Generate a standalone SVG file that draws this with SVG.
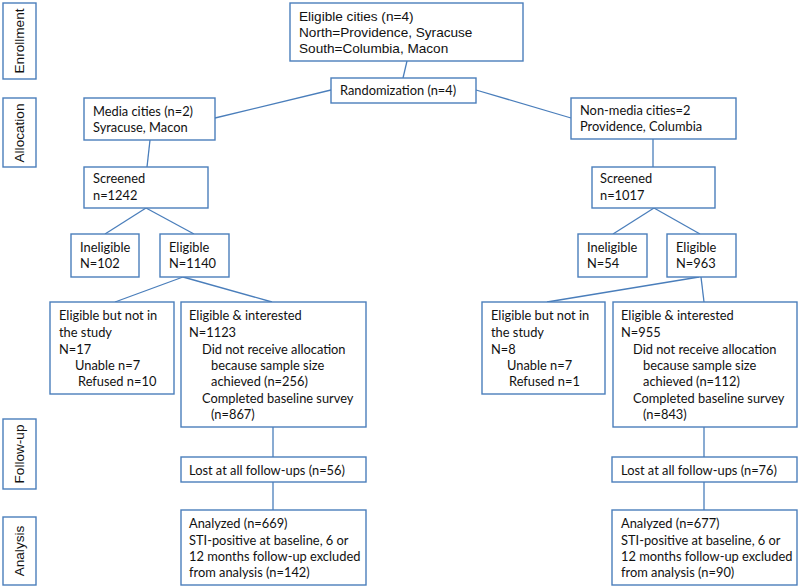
<svg xmlns="http://www.w3.org/2000/svg" width="800" height="588" viewBox="0 0 800 588">
<style>
  rect { fill: #fff; stroke: #4A7EBB; stroke-width: 1.4; }
  .c line { stroke: #4A7EBB; stroke-width: 1.3; }
  text { fill: #111; font-family: Lato, "Open Sans", sans-serif; font-size: 12.85px; }
  text.a { font-family: "Liberation Sans", Arial, sans-serif; font-size: 13.6px; }
</style>
<rect x="0" y="0" width="800" height="588" style="stroke:none;fill:#fff"/>

<g id="phase-enrollment"><rect x="3" y="3" width="33" height="76"/><text class="a" transform="translate(24,41) rotate(-90)" text-anchor="middle">Enrollment</text></g>
<g id="phase-allocation"><rect x="3" y="98" width="33" height="69"/><text class="a" transform="translate(24,133) rotate(-90)" text-anchor="middle">Allocation</text></g>
<g id="phase-followup"><rect x="3" y="419" width="33" height="70"/><text class="a" transform="translate(24,454) rotate(-90)" text-anchor="middle">Follow-up</text></g>
<g id="phase-analysis"><rect x="3" y="517" width="33" height="68"/><text class="a" transform="translate(24,551) rotate(-90)" text-anchor="middle">Analysis</text></g>

<g class="c" id="connectors">
  <line x1="407" y1="61" x2="403" y2="78"/>
  <line x1="331" y1="90" x2="215" y2="118"/>
  <line x1="476" y1="90" x2="571" y2="118"/>
  <line x1="150" y1="140" x2="147" y2="167"/>
  <line x1="146" y1="208" x2="105" y2="234"/>
  <line x1="146" y1="208" x2="194" y2="234"/>
  <line x1="183" y1="277" x2="115" y2="302"/>
  <line x1="183" y1="277" x2="272" y2="302"/>
  <line x1="273" y1="427" x2="273" y2="457"/>
  <line x1="273" y1="482" x2="273" y2="510"/>
  <line x1="653" y1="139" x2="653" y2="167"/>
  <line x1="654" y1="208" x2="613" y2="234"/>
  <line x1="654" y1="208" x2="700" y2="234"/>
  <line x1="699" y1="277" x2="547" y2="302"/>
  <line x1="701" y1="277" x2="704" y2="302"/>
  <line x1="704" y1="427" x2="704" y2="457"/>
  <line x1="704" y1="482" x2="704" y2="510"/>
</g>

<g id="eligible-cities"><rect x="290" y="3" width="233" height="58"/>
  <text class="a" x="299" y="21">Eligible cities (n=4)</text>
  <text class="a" x="299" y="37">North=Providence, Syracuse</text>
  <text class="a" x="299" y="53">South=Columbia, Macon</text></g>

<g id="randomization"><rect x="331" y="78" width="145" height="25"/>
  <text x="340" y="95">Randomization (n=4)</text></g>

<g id="media-cities"><rect x="84" y="98" width="131" height="42"/>
  <text x="93" y="116">Media cities (n=2)</text>
  <text x="93" y="132">Syracuse, Macon</text></g>

<g id="nonmedia-cities"><rect x="571" y="98" width="165" height="41"/>
  <text x="580" y="115">Non-media cities=2</text>
  <text x="580" y="131">Providence, Columbia</text></g>

<g id="screened-left"><rect x="84" y="167" width="124" height="41"/>
  <text x="93" y="183">Screened</text>
  <text x="93" y="200">n=1242</text></g>

<g id="screened-right"><rect x="592" y="167" width="123" height="41"/>
  <text x="600" y="183">Screened</text>
  <text x="600" y="200">n=1017</text></g>

<g id="ineligible-left"><rect x="71" y="234" width="68" height="43"/>
  <text x="80" y="252">Ineligible</text>
  <text x="80" y="268">N=102</text></g>

<g id="eligible-left"><rect x="160" y="234" width="69" height="43"/>
  <text x="169" y="252">Eligible</text>
  <text x="169" y="268">N=1140</text></g>

<g id="ineligible-right"><rect x="578" y="234" width="69" height="43"/>
  <text x="587" y="252">Ineligible</text>
  <text x="587" y="268">N=54</text></g>

<g id="eligible-right"><rect x="667" y="234" width="69" height="43"/>
  <text x="676" y="252">Eligible</text>
  <text x="676" y="268">N=963</text></g>

<g id="not-in-study-left"><rect x="50" y="302" width="124" height="92"/>
  <text x="59" y="320">Eligible but not in</text>
  <text x="59" y="337">the study</text>
  <text x="59" y="353.5">N=17</text>
  <text x="75" y="370">Unable n=7</text>
  <text x="78" y="386">Refused n=10</text></g>

<g id="interested-left"><rect x="181" y="302" width="185" height="125"/>
  <text x="189" y="320">Eligible &amp; interested</text>
  <text x="189" y="337">N=1123</text>
  <text x="202" y="353.5">Did not receive allocation</text>
  <text x="211" y="370">because sample size</text>
  <text x="211" y="386">achieved (n=256)</text>
  <text x="202" y="402.5">Completed baseline survey</text>
  <text x="211" y="419">(n=867)</text></g>

<g id="not-in-study-right"><rect x="482" y="302" width="123" height="92"/>
  <text x="491" y="320">Eligible but not in</text>
  <text x="491" y="337">the study</text>
  <text x="491" y="353.5">N=8</text>
  <text x="507" y="370">Unable n=7</text>
  <text x="509" y="386">Refused n=1</text></g>

<g id="interested-right"><rect x="613" y="302" width="184" height="125"/>
  <text x="621" y="320">Eligible &amp; interested</text>
  <text x="621" y="337">N=955</text>
  <text x="633" y="353.5">Did not receive allocation</text>
  <text x="643" y="370">because sample size</text>
  <text x="643" y="386">achieved (n=112)</text>
  <text x="633" y="402.5">Completed baseline survey</text>
  <text x="643" y="419">(n=843)</text></g>

<g id="lost-left"><rect x="181" y="457" width="185" height="25"/>
  <text x="189" y="475">Lost at all follow-ups (n=56)</text></g>

<g id="lost-right"><rect x="612" y="457" width="185" height="25"/>
  <text x="621" y="475">Lost at all follow-ups (n=76)</text></g>

<g id="analyzed-left"><rect x="181" y="510" width="185" height="75"/>
  <text x="189" y="528">Analyzed (n=669)</text>
  <text x="189" y="544.5">STI-positive at baseline, 6 or</text>
  <text x="189" y="560.5">12 months follow-up excluded</text>
  <text x="189" y="577">from analysis (n=142)</text></g>

<g id="analyzed-right"><rect x="612" y="510" width="185" height="75"/>
  <text x="621" y="528">Analyzed (n=677)</text>
  <text x="621" y="544.5">STI-positive at baseline, 6 or</text>
  <text x="621" y="560.5">12 months follow-up excluded</text>
  <text x="621" y="577">from analysis (n=90)</text></g>
</svg>
